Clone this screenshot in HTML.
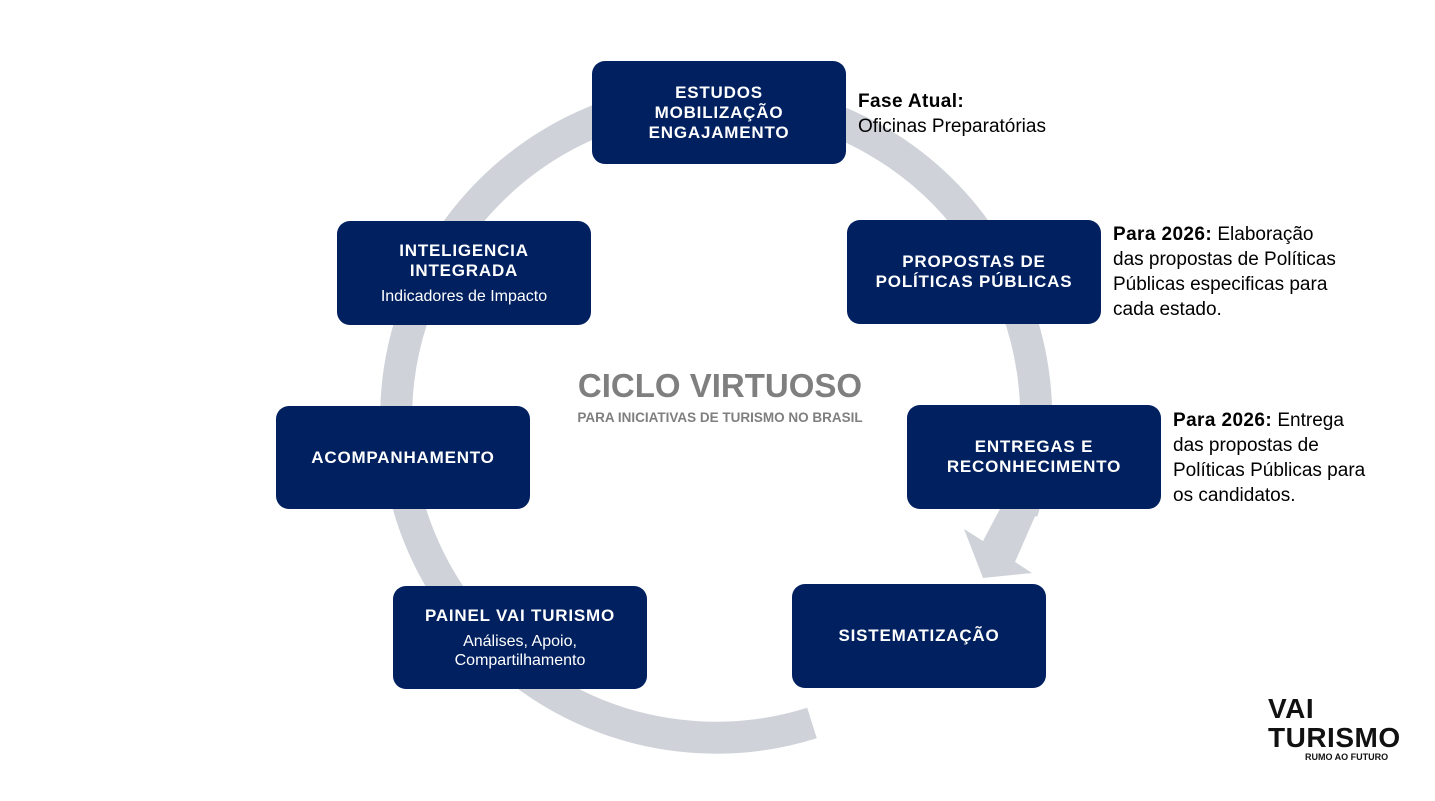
<!DOCTYPE html>
<html><head><meta charset="utf-8"><style>
body{margin:0;width:1435px;height:801px;background:#fff;position:relative;overflow:hidden;font-family:"Liberation Sans",Arial,sans-serif}
.b{position:absolute;background:#002060;border-radius:13px;color:#fff;display:flex;flex-direction:column;justify-content:center;align-items:center;text-align:center;font-weight:bold;font-size:17px;line-height:20px;letter-spacing:0.8px;width:254px;height:104px;box-sizing:border-box}
.b small{font-weight:normal;font-size:16px;letter-spacing:0;margin-top:6px;line-height:19px}
.t{position:absolute;font-size:19px;line-height:25px;color:#000}
.t b{letter-spacing:0.4px}
</style></head><body>
<svg width="1435" height="801" style="position:absolute;left:0;top:0">
<path d="M 812 723 A 320 320 0 1 1 1022 512" fill="none" stroke="#cfd3d9" stroke-width="32"/>
<polygon points="964,529 983,541 1002,505 1040,505 1015,562 1032,573 983,578" fill="#cfd3d9"/>
</svg>
<div class="b" style="left:592px;top:61px;height:103px">ESTUDOS<br>MOBILIZAÇÃO<br>ENGAJAMENTO</div>
<div class="b" style="left:847px;top:220px">PROPOSTAS DE<br>POLÍTICAS PÚBLICAS</div>
<div class="b" style="left:907px;top:405px">ENTREGAS E<br>RECONHECIMENTO</div>
<div class="b" style="left:792px;top:584px">SISTEMATIZAÇÃO</div>
<div class="b" style="left:393px;top:586px;height:103px">PAINEL VAI TURISMO<small>Análises, Apoio,<br>Compartilhamento</small></div>
<div class="b" style="left:276px;top:406px;height:103px">ACOMPANHAMENTO</div>
<div class="b" style="left:337px;top:221px">INTELIGENCIA<br>INTEGRADA<small>Indicadores de Impacto</small></div>
<div style="position:absolute;left:520px;top:368px;width:400px;text-align:center;color:#7f7f7f;font-weight:bold;font-size:33px;line-height:36px">CICLO VIRTUOSO</div>
<div style="position:absolute;left:520px;top:410px;width:400px;text-align:center;color:#7f7f7f;font-weight:bold;font-size:13.5px">PARA INICIATIVAS DE TURISMO NO BRASIL</div>
<div class="t" style="left:858px;top:89px"><b>Fase Atual:</b><br>Oficinas Preparatórias</div>
<div class="t" style="left:1113px;top:222px"><b>Para 2026:</b> Elaboração<br>das propostas de Políticas<br>Públicas especificas para<br>cada estado.</div>
<div class="t" style="left:1173px;top:408px"><b>Para 2026:</b> Entrega<br>das propostas de<br>Políticas Públicas para<br>os candidatos.</div>
<div style="position:absolute;left:1268px;top:694px;font-weight:bold;font-size:28px;line-height:29px;color:#111;letter-spacing:0.5px">VAI<br>TURISMO</div>
<div style="position:absolute;left:1305px;top:752px;font-weight:bold;font-size:9px;color:#111">RUMO AO FUTURO</div>
</body></html>
